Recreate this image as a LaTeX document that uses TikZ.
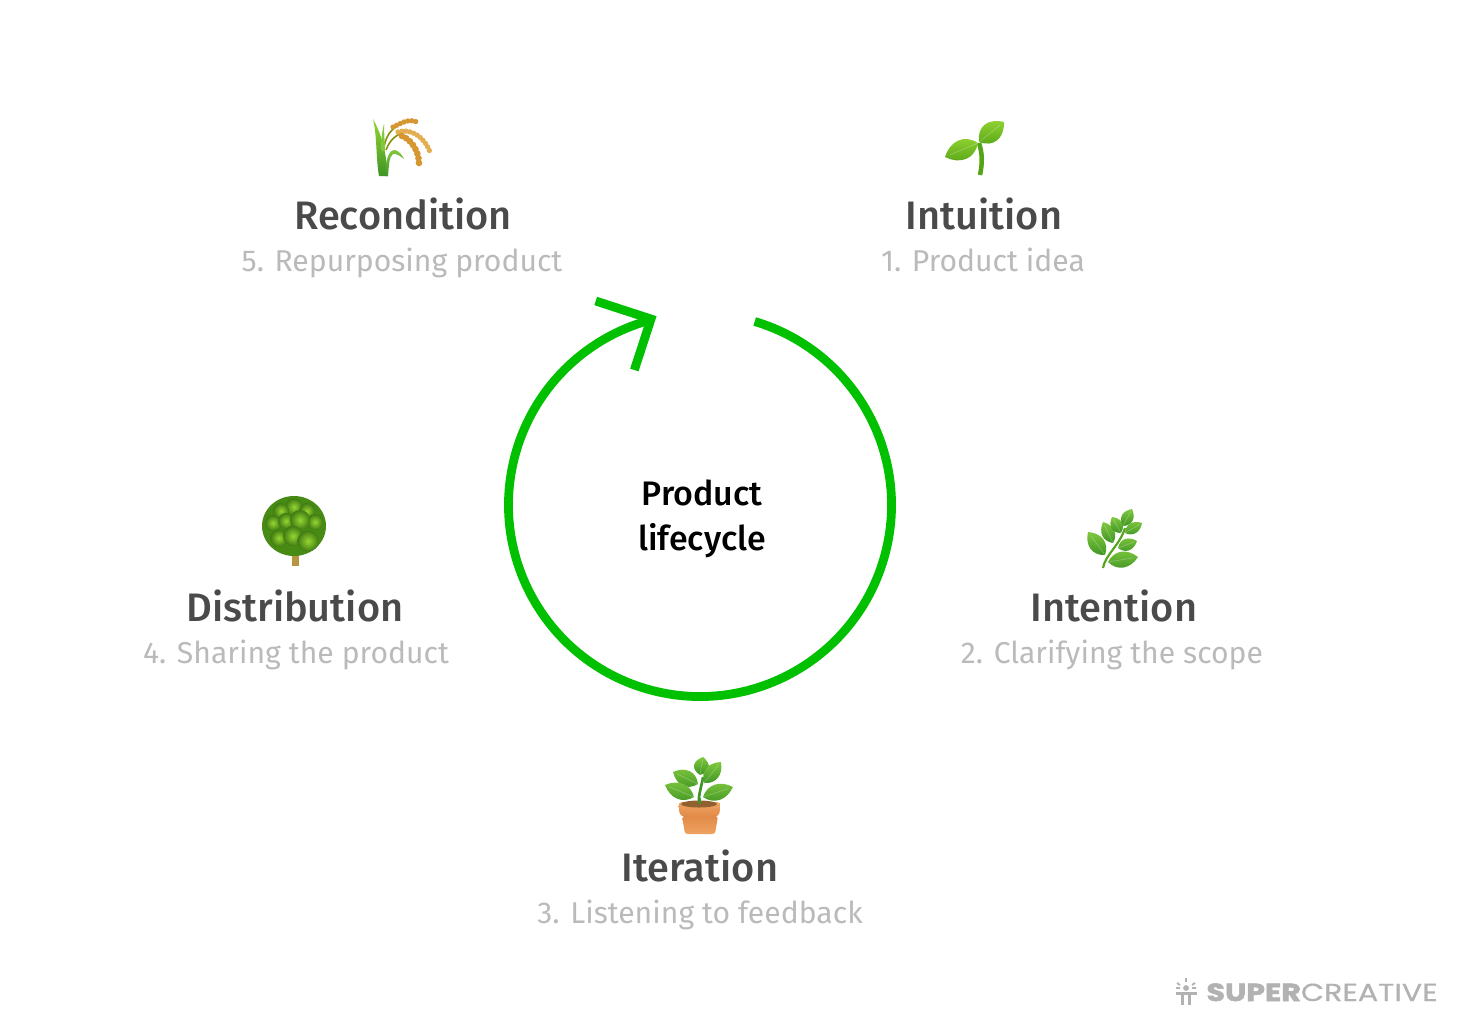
\documentclass[tikz,border=0pt]{standalone}
\usepackage{fontspec}
\setmainfont{Fira Sans Medium}
\newfontfamily\logofont[FakeStretch=1.22,FakeBold=0.6,BoldFeatures={FakeBold=2.4}]{Poppins}
\newfontfamily\subfont{Fira Sans}
\usetikzlibrary{calc}

\definecolor{cycleGreen}{RGB}{0,192,0}
\definecolor{titleGrey}{RGB}{74,74,74}
\definecolor{subGrey}{RGB}{186,186,186}
\definecolor{logoGrey}{RGB}{178,178,178}
\definecolor{leafLight}{RGB}{128,200,62}
\definecolor{leafDark}{RGB}{62,148,36}
\definecolor{budLight}{RGB}{150,214,50}
\definecolor{budDark}{RGB}{84,164,24}
\definecolor{riceGold}{RGB}{214,150,50}
\definecolor{riceLight}{RGB}{236,190,100}
\definecolor{potOrange}{RGB}{226,138,72}
\definecolor{potLight}{RGB}{240,164,100}
\definecolor{trunkTan}{RGB}{184,150,64}

\tikzset{every picture/.style={line width=0.75pt}}
\tikzset{
	cycle line/.style={draw=cycleGreen,line width=6.6pt},
	title text/.style={anchor=base,text=titleGrey,font=\fontsize{29.8}{34}\selectfont},
	sub text/.style={anchor=base,text=subGrey,font=\subfont\fontsize{22.6}{26}\selectfont},
	center text/.style={anchor=base,text=black,font=\fontsize{25.5}{30}\selectfont},
	rice dots/.style={dash pattern=on 0pt off 3pt,line cap=round,line width=4pt,draw=riceGold}}

% leaf from base to tip, half width in pt, two colours
\newcommand{\mcLeaf}[5]{
	\shade[top color=#4,bottom color=#5] (#1) .. controls ($(#1)!.25!(#2)!#3!90:(#2)$) and ($(#1)!.68!(#2)!#3!90:(#2)$) .. (#2) .. controls ($(#1)!.68!(#2)!#3!-90:(#2)$) and ($(#1)!.25!(#2)!#3!-90:(#2)$) .. (#1) -- cycle ;
	\draw[draw=white,opacity=.25,line width=.5pt] (#1) -- ($(#1)!.85!(#2)$) ;
}
% one lump of the tree crown
\newcommand{\mcLump}[3]{
	\shade[inner color=#3,outer color=budDark!75!black] (#1) circle (#2) ;
}

\begin{document}
\begin{tikzpicture}[x=0.75pt,y=0.75pt,yscale=-1,xscale=1]
	\useasboundingbox (0,0) rectangle (1462,1029);

	%Shape: Arc
	\coordinate (cycleCenter) at (700,505);
	\draw [cycle line] ([shift={(-73.4:191.5)}]cycleCenter) arc [start angle=-73.4,end angle=254.9,radius=191.5] ;
	%Straight Lines
	\coordinate (headLeft) at (595.7,301);
	\coordinate (headTip) at (651,319);
	\coordinate (headRight) at (634.3,370);
	\draw [cycle line,miter limit=10] (headLeft) -- (headTip) -- (headRight) ;

	%Shape: Sprout
	\draw [draw=budDark,line width=3.4pt] (979,143) .. controls (983,155) and (982,165) .. (980,175) ;
	\mcLeaf{978,143}{945,157}{10pt}{budLight}{budDark}
	\mcLeaf{979,142}{1004,122}{10pt}{budLight}{budDark}

	%Shape: Rice
	\draw [draw=olive!80!green,line width=1.2pt] (383,152) .. controls (385,140) and (388,132) .. (396,127) ;
	\draw [draw=olive!80!green,line width=1.2pt] (386,150) .. controls (389,142) and (394,136) .. (402,133) ;
	\shade [top color=budLight,bottom color=leafDark] (379,176) .. controls (376,160) and (377,135) .. (373,119) .. controls (381,133) and (386,150) .. (388,176) -- cycle ;
	\fill [leafLight] (381,150) .. controls (381,140) and (382,132) .. (384,124) .. controls (384,135) and (385,142) .. (385,152) -- cycle ;
	\shade [top color=leafLight,bottom color=leafDark] (385,176) .. controls (386,160) and (388,150) .. (395,150) .. controls (399,151) and (402,155) .. (404,159) .. controls (400,156) and (396,153) .. (393,154) .. controls (389,157) and (389,165) .. (388,176) -- cycle ;
	\draw [rice dots] (393,127) .. controls (400,124) and (408,118) .. (417,122) ;
	\draw [rice dots,draw=riceLight!60!riceGold] (398,132) .. controls (410,128) and (424,136) .. (430,152) ;
	\draw [rice dots,line width=5pt,dash pattern=on 0pt off 3.6pt] (402,136) .. controls (412,140) and (420,152) .. (419,167) ;

	%Shape: Tree
	\fill [trunkTan] (291.5,553) rectangle (299,566) ;
	\fill [budDark!85!black] (294,526) ellipse (32 and 30) ;
	\mcLump{294,507}{6.5pt}{budLight}
	\mcLump{281,511}{6pt}{budLight}
	\mcLump{307,511}{6pt}{budLight}
	\mcLump{273,523}{6pt}{budLight}
	\mcLump{315,522}{6pt}{budLight}
	\mcLump{286,521}{6pt}{budLight}
	\mcLump{300,520}{7.5pt}{budLight}
	\mcLump{279,538}{6.5pt}{budLight}
	\mcLump{293,536}{7.5pt}{budLight}
	\mcLump{308,541}{8pt}{budLight}

	%Shape: Branch
	\draw [draw=budDark,line width=1.6pt] (1103,568) .. controls (1105,555) and (1120,545) .. (1125,528) ;
	\mcLeaf{1105,555}{1088,532}{8pt}{leafLight}{leafDark}
	\mcLeaf{1113,543}{1103,522}{6.5pt}{leafLight}{leafDark}
	\mcLeaf{1121,533}{1112,517}{6pt}{leafLight}{leafDark}
	\mcLeaf{1123,526}{1132,509}{6pt}{leafLight}{leafDark}
	\mcLeaf{1125,533}{1142,523}{5.5pt}{leafLight}{leafDark}
	\mcLeaf{1118,548}{1137,541}{6pt}{leafLight}{leafDark}
	\mcLeaf{1108,562}{1138,557}{8pt}{leafLight}{leafDark}

	%Shape: Potted plant
	\draw [draw=leafDark,line width=2pt] (699,804) .. controls (698,795) and (702,785) .. (703,777) ;
	\mcLeaf{700,775}{703,757}{7.5pt}{leafLight}{leafDark}
	\mcLeaf{704,783}{721,762}{7.5pt}{leafLight}{leafDark}
	\mcLeaf{698,784}{673,772}{8pt}{leafLight}{leafDark}
	\mcLeaf{694,797}{665,785}{8pt}{leafLight}{leafDark}
	\mcLeaf{703,797}{733,787}{8pt}{leafLight}{leafDark}
	\shade [top color=potOrange,bottom color=potLight!90!potOrange,rounded corners=2pt] (682,816) -- (718,816) -- (715,834) -- (685,834) -- cycle ;
	\shade [top color=potLight,bottom color=potOrange,rounded corners=3pt] (678,802) -- (721,802) -- (719,816.5) -- (680,816.5) -- cycle ;
	\fill [brown!75!black] (699,804) ellipse (18 and 3.5) ;
	\fill [leafDark] (697.5,798) rectangle (700.5,804) ;

	% Text Node
	\node [title text] (reconditionTitle) at (403,229) {Recondition};
	\node [sub text] (reconditionSub) at (402,271) {5. Repurposing product};
	\node [title text] (intuitionTitle) at (984,229) {Intuition};
	\node [sub text] (intuitionSub) at (983,271) {1. Product idea};
	\node [title text] (distributionTitle) at (295,621) {Distribution};
	\node [sub text] (distributionSub) at (296,663) {4. Sharing the product};
	\node [title text] (intentionTitle) at (1114,621) {Intention};
	\node [sub text] (intentionSub) at (1112,663) {2. Clarifying the scope};
	\node [title text] (iterationTitle) at (700,881) {Iteration};
	\node [sub text] (iterationSub) at (700,923) {3. Listening to feedback};
	\node [center text] (centerTop) at (702,505) {Product};
	\node [center text] (centerBottom) at (702,550) {lifecycle};

	%Shape: Logo
	\fill [logoGrey] (1186,988) circle (2.2pt) ;
	\draw [draw=logoGrey,line width=1.8pt] (1176,993.5) -- (1197,993.5) (1182.5,994) -- (1182.5,1005) (1189.5,994) -- (1189.5,1005) ;
	\draw [draw=logoGrey,line width=1.4pt] (1186,978) -- (1186,982) (1177,983) -- (1180,985) (1195,983) -- (1192,985) (1176,988) -- (1180,988) (1192,988) -- (1196,988) ;
	\node [anchor=base west,text=logoGrey,inner sep=0pt,font=\logofont\fontsize{18.5}{22}\selectfont] (logoText) at (1206,1001) {\textbf{SUPER}CREATIVE};
\end{tikzpicture}
\end{document}
